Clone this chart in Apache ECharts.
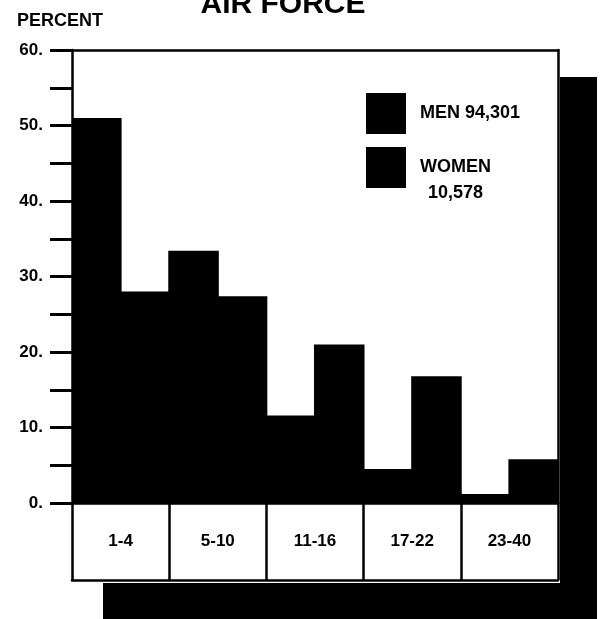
<!DOCTYPE html>
<html>
<head>
<meta charset="utf-8">
<script src="https://cdn.jsdelivr.net/npm/echarts@6/dist/echarts.min.js"></script>
<style>
  html, body { margin: 0; padding: 0; background: #fff; }
  #chart { width: 604px; height: 619px; }
</style>
</head>
<body>
<div id="chart"></div>
<script>
var ageGroups = ['1-4', '5-10', '11-16', '17-22', '23-40'];
var menValues = [51, 33.4, 11.6, 4.5, 1.2];
var womenValues = [28, 27.4, 21, 16.8, 5.8];
var yTicks = [0, 10, 20, 30, 40, 50, 60];

var font = '"Liberation Sans", Arial, sans-serif';
var ink = '#000';

var chart = echarts.init(document.getElementById('chart'));

var frameLine = { show: true, onZero: false, lineStyle: { color: ink, width: 2.5 } };

var option = {
  backgroundColor: '#fff',
  animation: false,
  grid: { left: 72, right: 46, top: 50, bottom: 116 },
  graphic: [
    // drop shadow behind the frame
    { type: 'rect', shape: { x: 560, y: 77, width: 37, height: 542 }, style: { fill: ink }, z: 0 },
    { type: 'rect', shape: { x: 103, y: 583, width: 494, height: 36 }, style: { fill: ink }, z: 0 },
    {
      type: 'text', x: 283, y: 5,
      style: {
        text: 'AIR FORCE', fill: ink, font: 'bold 30px ' + font,
        textAlign: 'center', textVerticalAlign: 'middle'
      }
    }
  ],
  legend: [
    {
      data: ['MEN'], orient: 'vertical', left: 361, top: 88,
      itemWidth: 40, itemHeight: 41, icon: 'rect',
      formatter: function () { return 'MEN 94,301'; },
      textStyle: { color: ink, fontFamily: font, fontWeight: 'bold', fontSize: 18, padding: [0, 0, 0, 9] }
    },
    {
      data: ['WOMEN'], orient: 'vertical', left: 361, top: 142,
      itemWidth: 40, itemHeight: 41, icon: 'rect',
      formatter: function () { return '{a|WOMEN}\n{a|10,578}'; },
      textStyle: {
        color: ink, padding: [26, 0, 0, 9],
        rich: { a: { align: 'center', color: ink, fontFamily: font, fontWeight: 'bold', fontSize: 18, lineHeight: 26 } }
      }
    }
  ],
  xAxis: [
    {
      type: 'category', data: ageGroups, position: 'bottom',
      axisLine: frameLine,
      axisTick: { show: true, interval: 0, length: 77, lineStyle: { color: ink, width: 2.5 } },
      axisLabel: { interval: 0, margin: 30, color: ink, fontFamily: font, fontWeight: 'bold', fontSize: 17 }
    },
    {
      type: 'category', data: ageGroups, position: 'top',
      axisLine: frameLine, axisTick: { show: false }, axisLabel: { show: false }
    },
    {
      type: 'category', data: ageGroups, position: 'bottom', offset: 77,
      axisLine: frameLine, axisTick: { show: false }, axisLabel: { show: false }
    }
  ],
  yAxis: [
    {
      type: 'value', min: yTicks[0], max: yTicks[yTicks.length - 1], interval: 10,
      name: 'PERCENT', nameLocation: 'end', nameGap: 20,
      nameTextStyle: { color: ink, fontFamily: font, fontWeight: 'bold', fontSize: 18, padding: [0, 24, 0, 0] },
      axisLine: frameLine,
      axisTick: { show: true, length: 22, lineStyle: { color: ink, width: 3 } },
      minorTick: { show: true, splitNumber: 2, length: 22, lineStyle: { color: ink, width: 3 } },
      splitLine: { show: false },
      axisLabel: {
        margin: 29, color: ink, fontFamily: font, fontWeight: 'bold', fontSize: 17,
        formatter: function (v) { return v + '.'; }
      }
    },
    {
      type: 'value', min: 0, max: 60, position: 'right',
      axisLine: frameLine, axisTick: { show: false }, axisLabel: { show: false }, splitLine: { show: false }
    }
  ],
  series: [
    {
      name: 'MEN', type: 'bar', data: menValues,
      barWidth: '52%', barGap: '-4%',
      itemStyle: { color: ink }, z: 3
    },
    {
      name: 'WOMEN', type: 'bar', data: womenValues,
      barWidth: '52%', barGap: '-4%',
      itemStyle: { color: ink }, z: 3
    }
  ]
};

chart.setOption(option);
</script>
</body>
</html>
